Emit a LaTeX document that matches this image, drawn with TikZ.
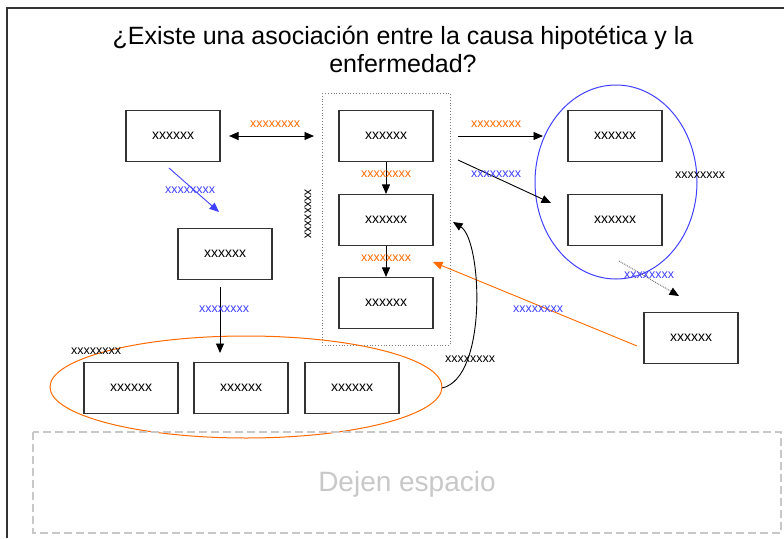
\documentclass[tikz,border=0pt]{standalone}
\usepackage{fontspec}
\setmainfont{Liberation Sans}
\usetikzlibrary{arrows.meta}
\definecolor{orng}{HTML}{FF6A00}
\definecolor{blu}{HTML}{4040FF}
\definecolor{frame}{HTML}{333333}
\definecolor{lgray}{HTML}{C8C8C8}
\tikzset{
  bx/.style={draw=frame, line width=1.1pt, minimum width=94pt, minimum height=51pt, inner sep=0pt, font=\fontsize{14}{16}\selectfont},
  lbl/.style={font=\fontsize{12.5}{14}\selectfont, inner sep=0pt},
  arr/.style={-{Triangle[length=9.5pt,width=8pt]}, line width=0.9pt},
  darr/.style={{Triangle[length=9.5pt,width=8pt]}-{Triangle[length=9.5pt,width=8pt]}, line width=0.9pt},
  dotarr/.style={-{Triangle[length=9.5pt,width=8pt,color=black]}, densely dotted, line width=0.9pt, gray!80!black},
}
\begin{document}
\begin{tikzpicture}[x=1pt,y=-1pt]
\useasboundingbox (0,0) rectangle (784,538);
% frame
\draw[frame, line width=1.3pt] (7,538) -- (7,8) -- (784,8);
% title
\node[font=\fontsize{25}{28}\selectfont, align=center] (title) at (403,49) {¿Existe una asociación entre la causa hipotética y la\\enfermedad?};
% dotted group
\draw[gray, dotted, line width=0.8pt] (322,93) rectangle (450,345);
% ellipses
\draw[orng, line width=1pt] (246,387) ellipse [x radius=196, y radius=51];
\draw[blu, line width=1pt] (616,182) ellipse [x radius=81, y radius=97];
\coordinate (ellE) at (442,388);
% boxes
\node[bx] (A) at (173,136) {xxxxxx};
\node[bx] (B1) at (386,136) {xxxxxx};
\node[bx] (B2) at (386,220) {xxxxxx};
\node[bx] (B3) at (386,303) {xxxxxx};
\node[bx] (C) at (225,254) {xxxxxx};
\node[bx] (D1) at (131,388) {xxxxxx};
\node[bx] (D2) at (241,388) {xxxxxx};
\node[bx] (D3) at (352,388) {xxxxxx};
\node[bx] (E1) at (615,136) {xxxxxx};
\node[bx] (E2) at (615,220) {xxxxxx};
\node[bx] (F) at (691,338) {xxxxxx};
% coordinates
\coordinate (a1) at (229,136);
\coordinate (a2) at (314,136);
\coordinate (b1) at (169,168);
\coordinate (b2) at (219,212);
\coordinate (c1) at (220,287);
\coordinate (c2) at (220,353);
\coordinate (g1) at (458,136);
\coordinate (g2) at (543,136);
\coordinate (h1) at (458,160);
\coordinate (h2) at (551,203);
\coordinate (k1) at (619,261);
\coordinate (k2) at (679,296);
\coordinate (o1) at (637,346);
\coordinate (o2) at (433,262);
\coordinate (cv) at (453,222);
% arrows
\draw[darr] (a1) -- (a2);
\draw[arr, blu] (b1) -- (b2);
\draw[arr] (c1) -- (c2);
\draw[arr] (B1) -- (B2);
\draw[arr] (B2) -- (B3);
\draw[arr] (g1) -- (g2);
\draw[arr] (h1) -- (h2);
\draw[arr, orng] (o1) -- (o2);
\draw[dotarr] (k1) -- (k2);
\draw[arr] (ellE) .. controls (488,378) and (482,240) .. (cv);
% labels
\node[lbl, orng] (l1) at (275,124) {xxxxxxxx};
\node[lbl, blu] (l2) at (190,190) {xxxxxxxx};
\node[lbl, blu] (l3) at (224,309) {xxxxxxxx};
\node[lbl] (l4) at (96,351) {xxxxxxxx};
\node[lbl, orng] (l5) at (386,174) {xxxxxxxx};
\node[lbl, orng] (l6) at (386,258) {xxxxxxxx};
\node[lbl, rotate=-90] (l7) at (308,214) {xxxxxxxx};
\node[lbl, orng] (l8) at (496,124) {xxxxxxxx};
\node[lbl, blu] (l9) at (496,174) {xxxxxxxx};
\node[lbl] (l10) at (700,175) {xxxxxxxx};
\node[lbl, blu] (l11) at (649,275) {xxxxxxxx};
\node[lbl, blu] (l12) at (538,309) {xxxxxxxx};
\node[lbl] (l13) at (470,359) {xxxxxxxx};
% space box
\draw[lgray, dashed, dash pattern=on 8pt off 4pt, line width=1.1pt] (33,432) rectangle (781,533);
\node[lgray, font=\fontsize{28}{32}\selectfont] (sp) at (407,484) {Dejen espacio};
\end{tikzpicture}
\end{document}
